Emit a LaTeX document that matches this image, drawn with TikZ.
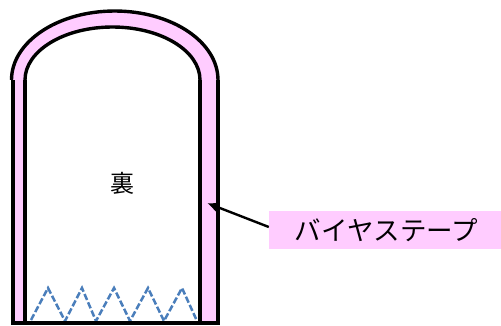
\documentclass[tikz,border=0pt]{standalone}
\usepackage{fontspec}
\newfontfamily\jpfont{Noto Sans CJK JP}
\definecolor{tape}{HTML}{FFCCFF}
\definecolor{stitch}{HTML}{4A7EBB}
\tikzset{
  outline/.style={draw=black,line width=3.8pt},
  archline/.style={draw=black,line width=3.4pt},
  stitchline/.style={draw=stitch,line width=2.5pt,dash pattern=on 6.5pt off 2.5pt},
  lbl/.style={font=\jpfont\fontsize{24}{26}\selectfont,inner sep=0pt},
  tapelabel/.style={fill=tape,minimum width=232pt,minimum height=38pt,inner sep=0pt,font=\jpfont\fontsize{26.5}{28}\selectfont},
  pointer/.style={draw=black,line width=2.4pt,-{Latex[length=11pt,width=10pt]}}
}
\usetikzlibrary{arrows.meta}
\begin{document}
\begin{tikzpicture}[x=1pt,y=-1pt]
\useasboundingbox (0,0) rectangle (501,325);
% tape band
\fill[tape] (13,323) -- (13,80) -- (11.5,80) arc[start angle=180,end angle=360,x radius=103.25,y radius=69] -- (218,323) -- (200,323) -- (200,80) arc[start angle=360,end angle=180,x radius=87.5,y radius=53] -- (25,323) -- cycle;
% stitches
\draw[stitchline] (31,320) -- (48,288) -- (65,321) -- (82,288) -- (96,321) -- (114,288) -- (130,321) -- (148,288) -- (164,321) -- (182,288) -- (197,321);
% outlines
\draw[archline] (11.5,80) arc[start angle=180,end angle=360,x radius=103.25,y radius=69];
\draw[archline] (25,80) arc[start angle=180,end angle=360,x radius=87.5,y radius=53];
\draw[outline,line join=miter] (13,80) -- (13,323) -- (218,323) -- (218,80);
\draw[outline] (25,80) -- (25,323);
\draw[outline] (200,80) -- (200,323);
\node[lbl] (ura) at (122,183) {裏};
\node[tapelabel] (label) at (385,230) {\hspace*{3pt}バイヤステープ};
\coordinate (tip) at (207,203);
\draw[pointer] ([yshift=3pt]label.west) -- (tip);
\end{tikzpicture}
\end{document}
